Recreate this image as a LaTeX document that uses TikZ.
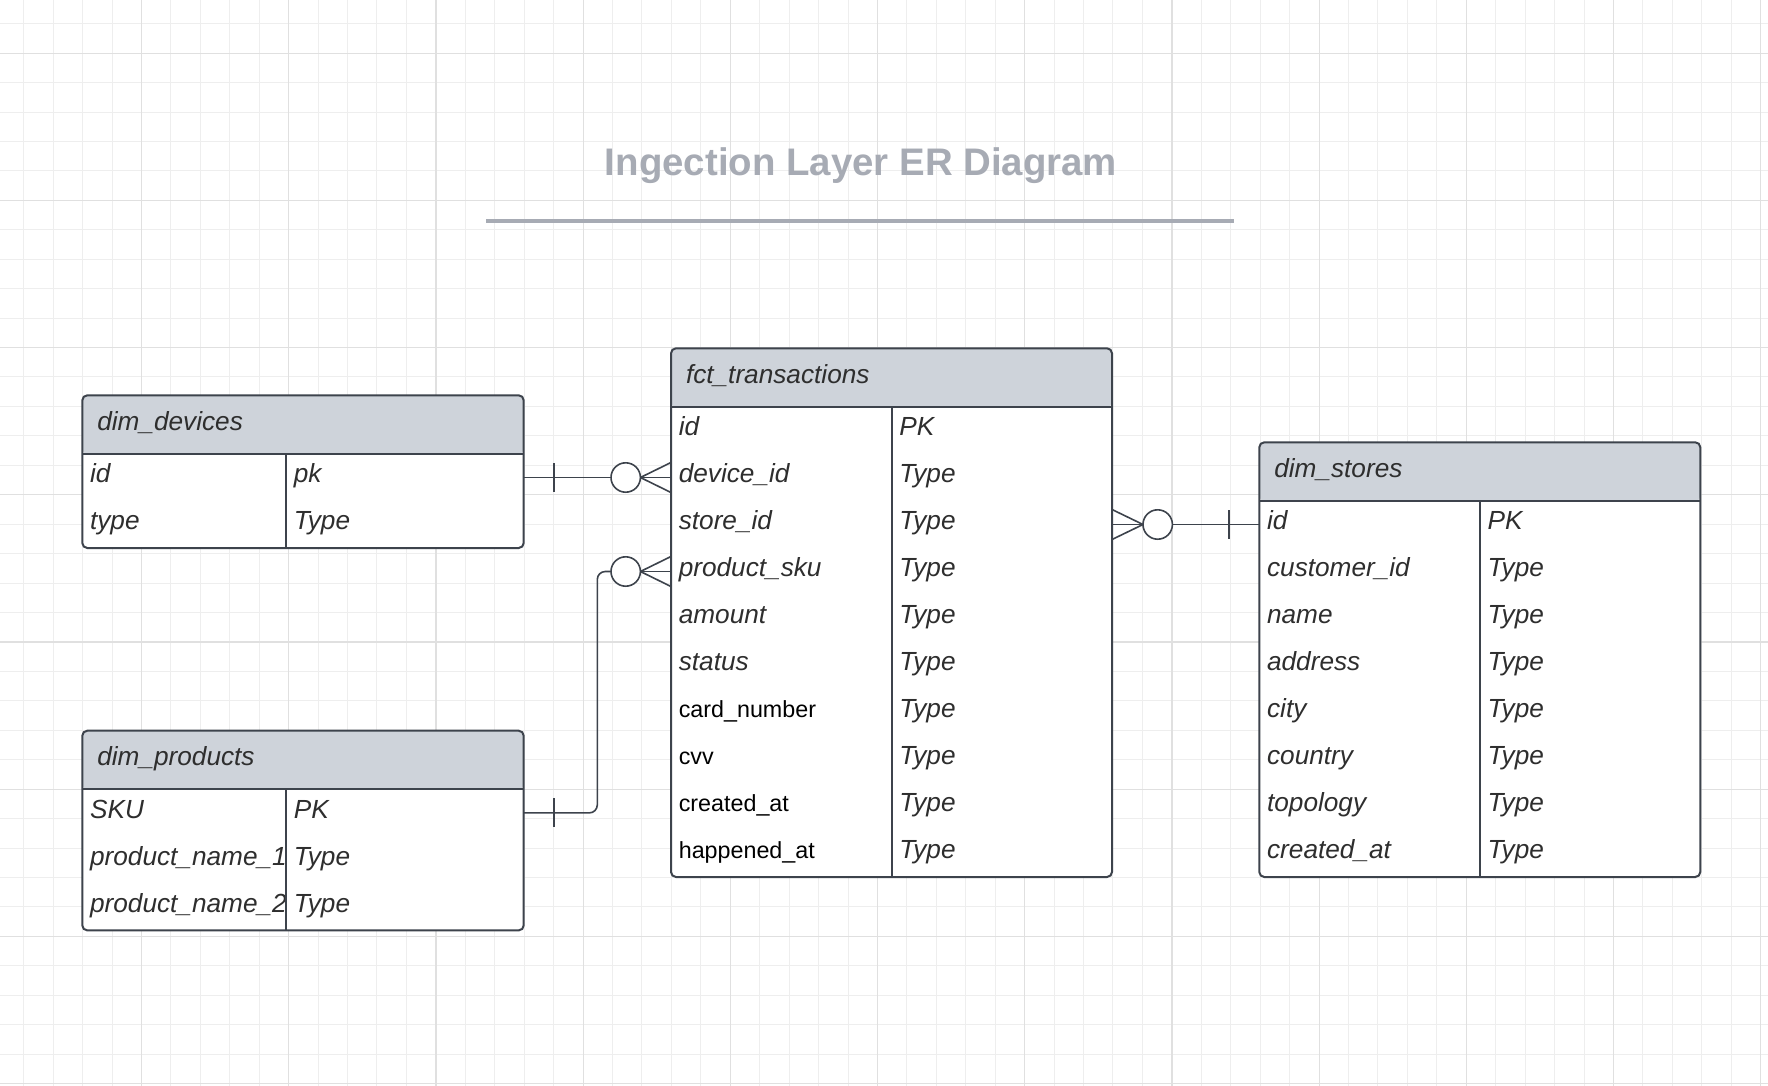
\documentclass[tikz,border=0pt]{standalone}
\usepackage{fontspec}
\setmainfont{Liberation Sans}
\usetikzlibrary{calc}
\definecolor{edgegray}{HTML}{3D434C}
\definecolor{headgray}{HTML}{CED3DA}
\definecolor{textgray}{HTML}{2E2E2E}
\definecolor{titlegray}{HTML}{A7ABB4}
\definecolor{gridminor}{HTML}{EEEEEE}
\definecolor{gridmajor}{HTML}{E0E0E0}
\tikzset{
  minorline/.style={draw=gridminor, line width=0.5pt},
  majorline/.style={draw=gridmajor, line width=0.6pt},
  titlerule/.style={draw=titlegray, line width=1.6pt},
  tablebox/.style={draw=edgegray, line width=1pt, fill=white, rounded corners=2.5pt,
    anchor=north west, inner sep=0pt, outer sep=0pt, minimum width=#1,
    path picture={\fill[headgray] (path picture bounding box.north west)
      rectangle ([yshift=-29.35pt]path picture bounding box.north east);}},
  headcell/.style={anchor=north west, minimum height=29.35pt, inner xsep=7.5pt,
    inner ysep=0pt, outer sep=0pt, text height=9.2pt, text depth=3.8pt, align=left,
    text=textgray, font=\fontsize{13.1pt}{15pt}\selectfont\itshape},
  keycell/.style={anchor=north west, minimum height=23.5pt, inner xsep=3.9pt,
    inner ysep=0pt, outer sep=0pt, text height=9.2pt, text depth=3.8pt, align=left,
    text=textgray, font=\fontsize{13.1pt}{15pt}\selectfont\itshape},
  plaincell/.style={keycell, text=black, text height=8.6pt, text depth=3.4pt,
    font=\fontsize{11.65pt}{14pt}\selectfont\upshape},
  shortcol/.style={text width=94.05pt},
  longcol/.style={text width=111.05pt},
  evencol/.style={text width=102.45pt},
  tableline/.style={draw=edgegray, line width=1pt},
  relline/.style={draw=edgegray, line width=0.8pt},
  crowcircle/.style={circle, draw=edgegray, fill=white, line width=0.8pt,
    minimum size=14.7pt, inner sep=0pt, outer sep=0pt}
}
\begin{document}
\begin{tikzpicture}[x=0.5pt, y=-0.5pt]
    \useasboundingbox[fill=white] (0,0) rectangle (1768,1086);
    % grid
    \foreach \i in {0,...,59} \draw[minorline] ({23.7+29.44*\i},0) -- ++(0,1086);
    \foreach \j in {0,...,36} \draw[minorline] (0,{23.7+29.44*\j}) -- ++(1768,0);
    \foreach \i in {0,...,11} \draw[majorline] ({141.5+147.2*\i},0) -- ++(0,1086);
    \foreach \j in {0,...,7} \draw[majorline] (0,{53.2+147.2*\j}) -- ++(1768,0);

    \node[anchor=base, text=titlegray, font=\fontsize{19.2pt}{22pt}\selectfont\bfseries]
        (title) at (861,175.7) {Ingection Layer ER Diagram};
    \draw[titlerule] (486,221) -- (1234,221);

    % dim_devices
    \node[tablebox=220.7pt, minimum height=76.35pt] (devices) at (82.3,395.3) {};
    \node[headcell, text width=205.7pt] (devhead) at (devices.north west) {dim\_devices};
    \node[keycell, shortcol] (devid) at (devhead.south west) {id};
    \node[keycell, shortcol] (devtype) at (devid.south west) {type};
    \node[keycell, longcol] (devidt) at (devid.north east) {pk};
    \node[keycell, longcol] (devtypet) at (devtype.north east) {Type};
    \draw[tableline] (devhead.south west) -- (devhead.south east);
    \draw[tableline] (devid.north east) -- (devtype.south east);

    % dim_products
    \node[tablebox=220.7pt, minimum height=99.85pt] (products) at (82.3,730.7) {};
    \node[headcell, text width=205.7pt] (prhead) at (products.north west) {dim\_products};
    \node[keycell, shortcol] (prsku) at (prhead.south west) {SKU};
    \node[keycell, shortcol] (prnamea) at (prsku.south west) {product\_name\_1};
    \node[keycell, shortcol] (prnameb) at (prnamea.south west) {product\_name\_2};
    \node[keycell, longcol] (prskut) at (prsku.north east) {PK};
    \node[keycell, longcol] (prnameat) at (prnamea.north east) {Type};
    \node[keycell, longcol] (prnamebt) at (prnameb.north east) {Type};
    \draw[tableline] (prhead.south west) -- (prhead.south east);
    \draw[tableline] (prsku.north east) -- (prnameb.south east);

    % fct_transactions
    \node[tablebox=220.5pt, minimum height=264.35pt] (trans) at (671,348.3) {};
    \node[headcell, text width=205.5pt] (trhead) at (trans.north west) {fct\_transactions};
    \node[keycell, evencol] (trid) at (trhead.south west) {id};
    \node[keycell, evencol] (trdevice) at (trid.south west) {device\_id};
    \node[keycell, evencol] (trstore) at (trdevice.south west) {store\_id};
    \node[keycell, evencol] (trsku) at (trstore.south west) {product\_sku};
    \node[keycell, evencol] (tramount) at (trsku.south west) {amount};
    \node[keycell, evencol] (trstatus) at (tramount.south west) {status};
    \node[plaincell, evencol] (trcard) at (trstatus.south west) {card\_number};
    \node[plaincell, evencol] (trcvv) at (trcard.south west) {cvv};
    \node[plaincell, evencol] (trcreated) at (trcvv.south west) {created\_at};
    \node[plaincell, evencol] (trhappened) at (trcreated.south west) {happened\_at};
    \node[keycell, evencol] (tridt) at (trid.north east) {PK};
    \node[keycell, evencol] (trdevicet) at (trdevice.north east) {Type};
    \node[keycell, evencol] (trstoret) at (trstore.north east) {Type};
    \node[keycell, evencol] (trskut) at (trsku.north east) {Type};
    \node[keycell, evencol] (tramountt) at (tramount.north east) {Type};
    \node[keycell, evencol] (trstatust) at (trstatus.north east) {Type};
    \node[keycell, evencol] (trcardt) at (trcard.north east) {Type};
    \node[keycell, evencol] (trcvvt) at (trcvv.north east) {Type};
    \node[keycell, evencol] (trcreatedt) at (trcreated.north east) {Type};
    \node[keycell, evencol] (trhappenedt) at (trhappened.north east) {Type};
    \draw[tableline] (trhead.south west) -- (trhead.south east);
    \draw[tableline] (trid.north east) -- (trhappened.south east);

    % dim_stores
    \node[tablebox=220.5pt, minimum height=217.35pt] (stores) at (1259.3,442.3) {};
    \node[headcell, text width=205.5pt] (sthead) at (stores.north west) {dim\_stores};
    \node[keycell, evencol] (stid) at (sthead.south west) {id};
    \node[keycell, evencol] (stcustomer) at (stid.south west) {customer\_id};
    \node[keycell, evencol] (stname) at (stcustomer.south west) {name};
    \node[keycell, evencol] (staddress) at (stname.south west) {address};
    \node[keycell, evencol] (stcity) at (staddress.south west) {city};
    \node[keycell, evencol] (stcountry) at (stcity.south west) {country};
    \node[keycell, evencol] (sttopology) at (stcountry.south west) {topology};
    \node[keycell, evencol] (stcreated) at (sttopology.south west) {created\_at};
    \node[keycell, evencol] (stidt) at (stid.north east) {PK};
    \node[keycell, evencol] (stcustomert) at (stcustomer.north east) {Type};
    \node[keycell, evencol] (stnamet) at (stname.north east) {Type};
    \node[keycell, evencol] (staddresst) at (staddress.north east) {Type};
    \node[keycell, evencol] (stcityt) at (stcity.north east) {Type};
    \node[keycell, evencol] (stcountryt) at (stcountry.north east) {Type};
    \node[keycell, evencol] (sttopologyt) at (sttopology.north east) {Type};
    \node[keycell, evencol] (stcreatedt) at (stcreated.north east) {Type};
    \draw[tableline] (sthead.south west) -- (sthead.south east);
    \draw[tableline] (stid.north east) -- (stcreated.south east);

    % dim_devices -- fct_transactions
    \node[crowcircle] (devcircle) at ($(trdevice.west)+(-45.3,0)$) {};
    \draw[relline] (devidt.east) -- (devcircle.west);
    \draw[relline] ($(devidt.east)+(30,-14.5)$) -- ++(0,29);
    \draw[relline] (devcircle.east) -- (trdevice.west);
    \draw[relline] (devcircle.east) -- ($(trdevice.west)+(0,-15)$);
    \draw[relline] (devcircle.east) -- ($(trdevice.west)+(0,15)$);

    % dim_products -- fct_transactions
    \node[crowcircle] (prcircle) at ($(trsku.west)+(-45.3,0)$) {};
    \draw[relline, rounded corners=4pt] (prskut.east) -- ($(prskut.east)+(73.6,0)$) |- (prcircle.west);
    \draw[relline] ($(prskut.east)+(30,-14.5)$) -- ++(0,29);
    \draw[relline] (prcircle.east) -- (trsku.west);
    \draw[relline] (prcircle.east) -- ($(trsku.west)+(0,-15)$);
    \draw[relline] (prcircle.east) -- ($(trsku.west)+(0,15)$);

    % fct_transactions -- dim_stores
    \node[crowcircle] (stcircle) at ($(trstoret.east)+(45.7,0)$) {};
    \draw[relline] (stcircle.east) -- (stid.west);
    \draw[relline] ($(stid.west)+(-30.3,-14.5)$) -- ++(0,29);
    \draw[relline] (stcircle.west) -- (trstoret.east);
    \draw[relline] (stcircle.west) -- ($(trstoret.east)+(0,-15)$);
    \draw[relline] (stcircle.west) -- ($(trstoret.east)+(0,15)$);
\end{tikzpicture}
\end{document}
